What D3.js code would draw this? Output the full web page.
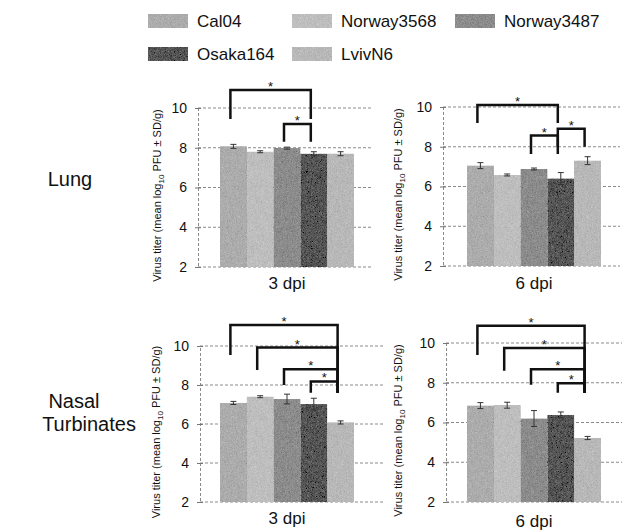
<!DOCTYPE html>
<html>
<head>
<meta charset="utf-8">
<script src="https://cdn.jsdelivr.net/npm/d3@7"></script>
<style>
  body { margin: 0; background: #fff; }
  text { font-family: Arial, "Liberation Sans", sans-serif; fill: #111; }
</style>
</head>
<body>
<div id="chart"></div>
<script>
// strains and colours
var strains = ["Cal04", "Norway3568", "Norway3487", "Osaka164", "LvivN6"];
var colors = ["#acacac", "#bebebe", "#8c8c8c", "#555555", "#b8b8b8"];

// mean log10 PFU and SD
var lung3Mean = [8.07, 7.8, 7.98, 7.7, 7.7];
var lung3SD = [0.1, 0.05, 0.05, 0.1, 0.1];
var lung6Mean = [7.05, 6.58, 6.88, 6.4, 7.3];
var lung6SD = [0.15, 0.05, 0.05, 0.3, 0.2];
var nasal3Mean = [7.08, 7.4, 7.28, 7.02, 6.08];
var nasal3SD = [0.08, 0.05, 0.25, 0.3, 0.08];
var nasal6Mean = [6.85, 6.87, 6.2, 6.38, 5.22];
var nasal6SD = [0.15, 0.15, 0.4, 0.15, 0.08];

// significance brackets: [from strain, to strain, top, left leg end, right leg end]
var lung3Sig = [[0, 3, 10.9, 9.45, 9.45], [2, 3, 9.2, 8.3, 8.3]];
var lung6Sig = [[0, 3, 10.1, 9.2, 9.2], [2, 3, 8.56, 7.64, 7.64], [3, 4, 8.9, 8.0, 8.0]];
var nasal3Sig = [[0, 4, 11.08, 9.54, 7.6], [1, 4, 9.92, 8.77, 7.6], [2, 4, 8.81, 8.0, 7.6], [3, 4, 8.18, 7.6, 7.6]];
var nasal6Sig = [[0, 4, 10.87, 9.4, 7.5], [1, 4, 9.75, 8.6, 7.5], [2, 4, 8.68, 7.9, 7.5], [3, 4, 7.98, 7.5, 7.5]];

var yTicks = [2, 4, 6, 8, 10];
var dayLabels = ["3 dpi", "6 dpi"];

var svg = d3.select("#chart").append("svg")
    .attr("width", 626).attr("height", 531);

// grainy fill like the scanned figure
var f = svg.append("defs").append("filter").attr("id", "grain")
    .attr("x", 0).attr("y", 0).attr("width", 1).attr("height", 1);
f.append("feTurbulence").attr("type", "fractalNoise").attr("baseFrequency", 2.2)
    .attr("numOctaves", 1).attr("seed", 3).attr("result", "noise");
f.append("feColorMatrix").attr("in", "noise").attr("type", "matrix")
    .attr("values", "0.33 0.33 0.33 0 0 0.33 0.33 0.33 0 0 0.33 0.33 0.33 0 0 0 0 0 0 1")
    .attr("result", "gray");
f.append("feComposite").attr("in", "SourceGraphic").attr("in2", "gray")
    .attr("operator", "arithmetic").attr("k1", 0).attr("k2", 1).attr("k3", 0.5).attr("k4", -0.25)
    .attr("result", "mix");
f.append("feComposite").attr("in", "mix").attr("in2", "SourceGraphic").attr("operator", "in");

// legend
var legendPos = [[148, 21], [292, 21], [455, 21], [148, 54], [292, 54]];
strains.forEach(function(s, i) {
    var g = svg.append("g").attr("transform", "translate(" + legendPos[i][0] + "," + legendPos[i][1] + ")");
    g.append("rect").attr("x", 0).attr("y", -7).attr("width", 40).attr("height", 14)
        .attr("fill", colors[i]).attr("filter", "url(#grain)");
    g.append("text").attr("x", 49).attr("y", 6).style("font-size", "17px").text(s);
});

// row labels
svg.append("text").attr("x", 70).attr("y", 186).attr("text-anchor", "middle")
    .style("font-size", "20px").text("Lung");
svg.append("text").attr("x", 74).attr("y", 408).attr("text-anchor", "middle")
    .style("font-size", "20px").text("Nasal");
svg.append("text").attr("x", 89).attr("y", 431).attr("text-anchor", "middle")
    .style("font-size", "20px").text("Turbinates");

var panels = [
    {mean: lung3Mean, sd: lung3SD, sig: lung3Sig, day: 0, ax: 198, right: 373, bars: [220, 354], y: [267, 108], lx: 161, xl: 289},
    {mean: lung6Mean, sd: lung6SD, sig: lung6Sig, day: 1, ax: 443, right: 620, bars: [467, 601], y: [266, 107], lx: 402, xl: 289},
    {mean: nasal3Mean, sd: nasal3SD, sig: nasal3Sig, day: 0, ax: 200, right: 383, bars: [220, 354], y: [502, 346], lx: 160, xl: 524},
    {mean: nasal6Mean, sd: nasal6SD, sig: nasal6Sig, day: 1, ax: 446, right: 622, bars: [467, 601], y: [502, 343], lx: 402, xl: 527}
];

panels.forEach(function(p) {
    var x = d3.scaleBand().domain(d3.range(strains.length)).range(p.bars).padding(0);
    var y = d3.scaleLinear().domain([2, 10]).range(p.y);
    var g = svg.append("g");

    // dashed grid
    g.selectAll(".grid").data(yTicks).enter().append("line")
        .attr("x1", p.ax).attr("x2", p.right)
        .attr("y1", function(d) { return y(d); }).attr("y2", function(d) { return y(d); })
        .attr("stroke", "#8a8a8a").attr("stroke-width", 1).attr("stroke-dasharray", "3,2");

    // y axis
    var yAxis = d3.axisLeft(y).tickValues(yTicks).tickSize(3).tickPadding(8);
    var ga = g.append("g").attr("transform", "translate(" + p.ax + ",0)").call(yAxis);
    ga.select(".domain").attr("stroke", "#8a8a8a").attr("stroke-dasharray", "3,2");
    ga.selectAll(".tick line").attr("stroke", "#777").attr("x2", 3).attr("x1", -3);
    ga.selectAll(".tick text").style("font-size", "14px").style("font-family", "Arial, sans-serif").attr("fill", "#111");

    // bars
    g.selectAll(".bar").data(p.mean).enter().append("rect")
        .attr("x", function(d, i) { return x(i); })
        .attr("width", x.bandwidth())
        .attr("y", function(d) { return y(d); })
        .attr("height", function(d) { return y(2) - y(d); })
        .attr("fill", function(d, i) { return colors[i]; })
        .attr("filter", "url(#grain)");

    // error bars
    var eb = g.selectAll(".err").data(p.mean).enter().append("g")
        .attr("stroke", "#333").attr("stroke-width", 1);
    eb.append("line")
        .attr("x1", function(d, i) { return x(i) + x.bandwidth() / 2; })
        .attr("x2", function(d, i) { return x(i) + x.bandwidth() / 2; })
        .attr("y1", function(d, i) { return y(d - p.sd[i]); })
        .attr("y2", function(d, i) { return y(d + p.sd[i]); });
    [1, -1].forEach(function(s) {
        eb.append("line")
            .attr("x1", function(d, i) { return x(i) + x.bandwidth() / 2 - 3; })
            .attr("x2", function(d, i) { return x(i) + x.bandwidth() / 2 + 3; })
            .attr("y1", function(d, i) { return y(d + s * p.sd[i]); })
            .attr("y2", function(d, i) { return y(d + s * p.sd[i]); });
    });

    // significance brackets
    var cx = function(i) { return x(i) + x.bandwidth() / 2 - 3; };
    p.sig.forEach(function(b) {
        var x1 = cx(b[0]), x2 = cx(b[1]);
        g.append("path")
            .attr("d", "M" + x1 + "," + y(b[3]) + "V" + y(b[2]) + "H" + x2 + "V" + y(b[4]))
            .attr("fill", "none").attr("stroke", "#111").attr("stroke-width", 2.5);
        g.append("text").attr("x", (x1 + x2) / 2).attr("y", y(b[2]) + 1)
            .attr("text-anchor", "middle").style("font-size", "13px").text("*");
    });

    // axis titles
    var t = g.append("text")
        .attr("transform", "translate(" + p.lx + "," + ((p.y[0] + p.y[1]) / 2 + 8) + ") rotate(-90)")
        .attr("text-anchor", "middle").style("font-size", "11px");
    t.append("tspan").text("Virus titer (mean log");
    t.append("tspan").attr("dy", 3).style("font-size", "8px").text("10");
    t.append("tspan").attr("dy", -3).text(" PFU \u00b1 SD/g)");

    g.append("text").attr("x", (p.bars[0] + p.bars[1]) / 2).attr("y", p.xl)
        .attr("text-anchor", "middle").style("font-size", "17px").text(dayLabels[p.day]);
});
</script>
</body>
</html>
